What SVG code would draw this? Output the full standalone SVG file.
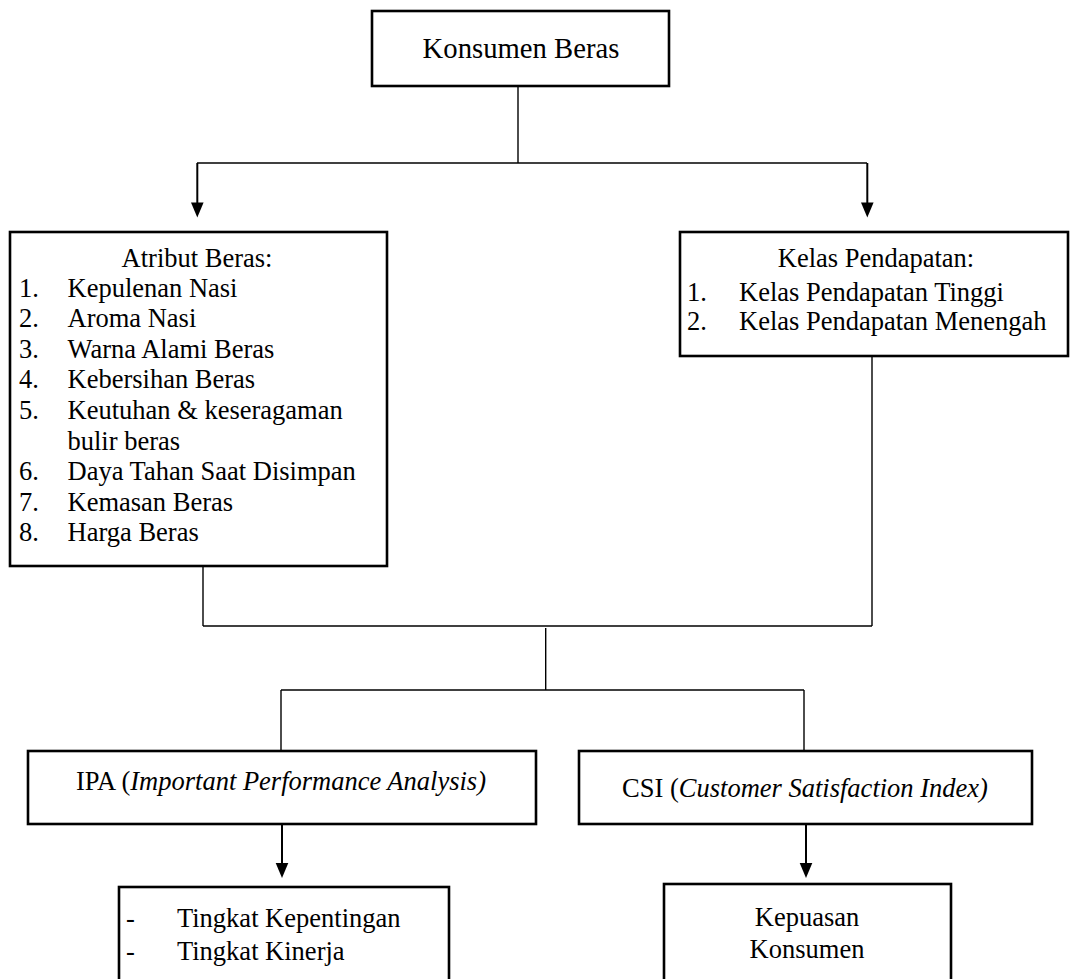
<svg xmlns="http://www.w3.org/2000/svg" width="1071" height="979" viewBox="0 0 1071 979" font-family="Liberation Serif, DejaVu Serif, serif">
<style>
.box{fill:#fff;stroke:#000;stroke-width:2.6}
.t{font-size:26.5px;fill:#000}
.h{font-size:28.7px}
.c{text-anchor:middle}
.ln{fill:none;stroke:#000;stroke-width:1.4}
.ar{fill:none;stroke:#000;stroke-width:2}
.i{font-style:italic}
</style>
<rect width="1071" height="979" fill="#fff"/>
<g id="connectors">
<line class="ln" x1="518" y1="86" x2="518" y2="163"/>
<line class="ln" x1="197" y1="163" x2="867" y2="163"/>
<line class="ar" x1="197.3" y1="163" x2="197.3" y2="203"/>
<path d="M191,202.5 L203.6,202.5 L197.3,217.5 Z"/>
<line class="ar" x1="867.3" y1="163" x2="867.3" y2="203"/>
<path d="M861,202.5 L873.6,202.5 L867.3,217.5 Z"/>
<line class="ln" x1="203" y1="566" x2="203" y2="626"/>
<line class="ln" x1="872" y1="356" x2="872" y2="626"/>
<line class="ln" x1="203" y1="626" x2="872" y2="626"/>
<line class="ln" x1="545.7" y1="628" x2="545.7" y2="690"/>
<line class="ln" x1="281" y1="690" x2="804" y2="690"/>
<line class="ln" x1="281" y1="690" x2="281" y2="751"/>
<line class="ln" x1="804" y1="690" x2="804" y2="751"/>
<line class="ar" x1="282" y1="824" x2="282" y2="864"/>
<path d="M275.7,863 L288.3,863 L282,878 Z"/>
<line class="ar" x1="806" y1="824" x2="806" y2="864"/>
<path d="M799.7,863 L812.3,863 L806,878 Z"/>
</g>
<g id="konsumen-beras">
<rect class="box" x="372" y="11" width="297" height="75"/>
<text class="t h c" x="521" y="58">Konsumen Beras</text>
</g>
<g id="atribut-beras">
<rect class="box" x="10" y="232" width="377" height="334"/>
<text class="t c" x="197" y="267">Atribut Beras:</text>
<text class="t" x="19" y="296.5">1.</text><text class="t" x="67.5" y="296.5">Kepulenan Nasi</text>
<text class="t" x="19" y="327.1">2.</text><text class="t" x="67.5" y="327.1">Aroma Nasi</text>
<text class="t" x="19" y="357.7">3.</text><text class="t" x="67.5" y="357.7">Warna Alami Beras</text>
<text class="t" x="19" y="388.3">4.</text><text class="t" x="67.5" y="388.3">Kebersihan Beras</text>
<text class="t" x="19" y="418.9">5.</text><text class="t" x="67.5" y="418.9">Keutuhan &amp; keseragaman</text>
<text class="t" x="67.5" y="449.5">bulir beras</text>
<text class="t" x="19" y="480.1">6.</text><text class="t" x="67.5" y="480.1">Daya Tahan Saat Disimpan</text>
<text class="t" x="19" y="510.7">7.</text><text class="t" x="67.5" y="510.7">Kemasan Beras</text>
<text class="t" x="19" y="541.3">8.</text><text class="t" x="67.5" y="541.3">Harga Beras</text>
</g>
<g id="kelas-pendapatan">
<rect class="box" x="680" y="232" width="388" height="124"/>
<text class="t c" x="876" y="266.7">Kelas Pendapatan:</text>
<text class="t" x="687" y="300.5">1.</text><text class="t" x="739" y="300.5">Kelas Pendapatan Tinggi</text>
<text class="t" x="687" y="330">2.</text><text class="t" x="739" y="330">Kelas Pendapatan Menengah</text>
</g>
<g id="ipa">
<rect class="box" x="28" y="751" width="508" height="73"/>
<text class="t c" x="281" y="789.5">IPA (<tspan class="i">Important Performance Analysis)</tspan></text>
</g>
<g id="csi">
<rect class="box" x="579" y="751" width="453" height="73"/>
<text class="t c" x="805" y="796.5">CSI (<tspan class="i">Customer Satisfaction Index)</tspan></text>
</g>
<g id="tingkat">
<rect class="box" x="119" y="887" width="330" height="120"/>
<text class="t" x="126" y="927">-</text><text class="t" x="177" y="927">Tingkat Kepentingan</text>
<text class="t" x="126" y="960">-</text><text class="t" x="177" y="960">Tingkat Kinerja</text>
</g>
<g id="kepuasan">
<rect class="box" x="664" y="884" width="287" height="120"/>
<text class="t c" x="807" y="926">Kepuasan</text>
<text class="t c" x="807" y="958">Konsumen</text>
</g>
</svg>
